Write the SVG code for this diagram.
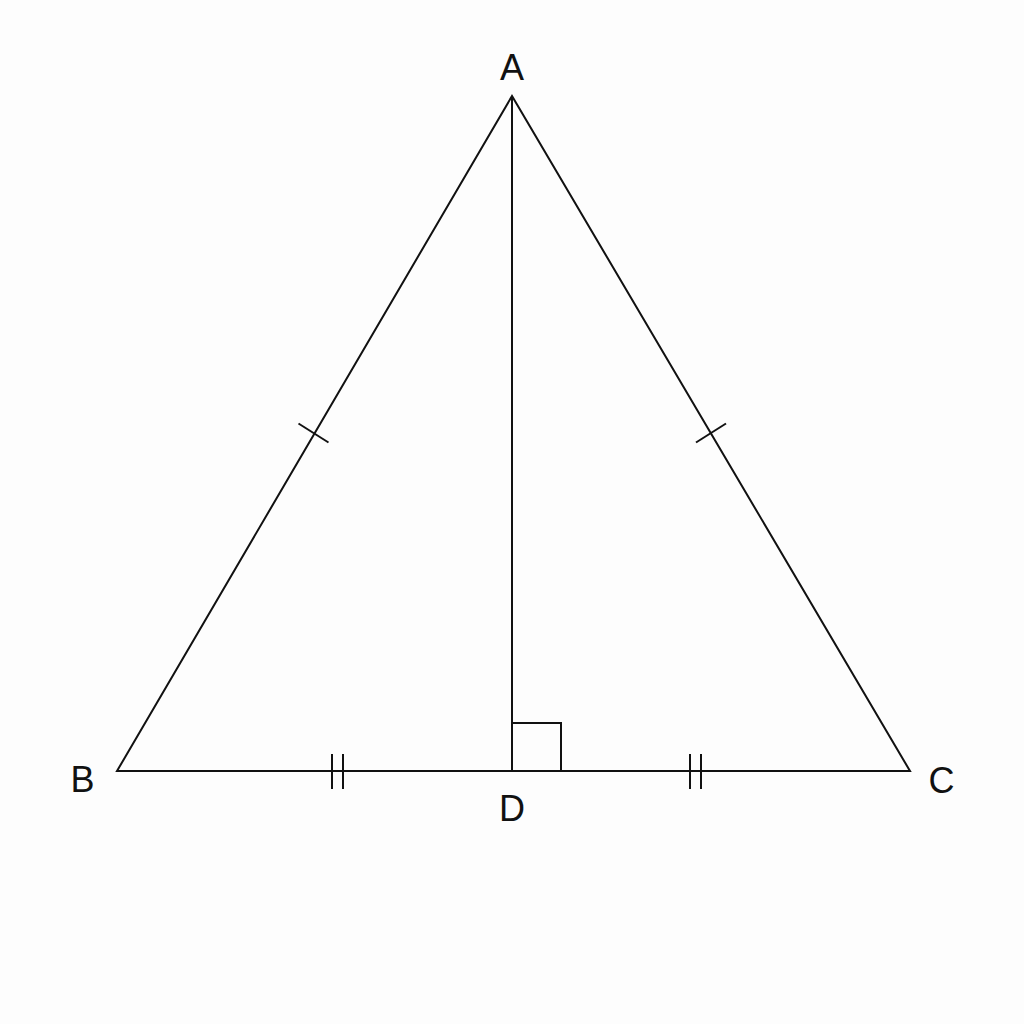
<svg xmlns="http://www.w3.org/2000/svg" width="1024" height="1024" viewBox="0 0 1024 1024">
<style>
.ln{stroke:#111;stroke-width:2;fill:none;stroke-linecap:butt}
.lbl{font-family:"Liberation Sans",Arial,sans-serif;font-size:36px;fill:#111;text-anchor:middle}
</style>
<rect width="1024" height="1024" fill="#fdfdfd"/>
<g id="connectors">
<path class="ln" d="M512,96 L117,771 L910,771 Z" stroke-linejoin="miter"/>
<line class="ln" x1="512" y1="96" x2="512" y2="771"/>
<path class="ln" d="M512,723 H561 V771"/>
<line class="ln" x1="298.5" y1="423.5" x2="328.5" y2="442.5"/>
<line class="ln" x1="696" y1="442.5" x2="726" y2="423.5"/>
<line class="ln" x1="332" y1="754" x2="332" y2="789"/>
<line class="ln" x1="343" y1="754" x2="343" y2="789"/>
<line class="ln" x1="690" y1="754" x2="690" y2="789"/>
<line class="ln" x1="701" y1="754" x2="701" y2="789"/>
</g>
<g id="A"><text class="lbl" x="512" y="80">A</text></g>
<g id="B"><text class="lbl" x="82.5" y="792">B</text></g>
<g id="C"><text class="lbl" x="941.5" y="793">C</text></g>
<g id="D"><text class="lbl" x="512" y="821">D</text></g>
</svg>
